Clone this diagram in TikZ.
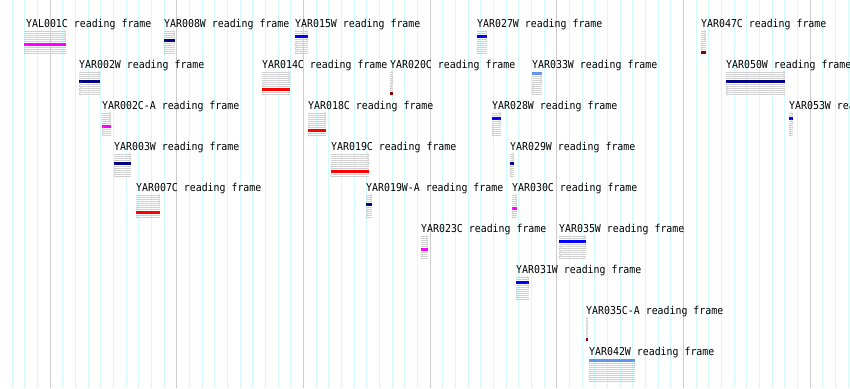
\documentclass[tikz,border=0pt]{standalone}
\usepackage{graphicx}
\usepackage{fontspec}
\newfontfamily\lblfont{DejaVu Sans Mono}
\definecolor{gridcyan}{RGB}{210,250,250}
\definecolor{gridgray}{RGB}{204,204,204}
\definecolor{glgray}{RGB}{208,208,208}
\definecolor{fA}{RGB}{100,149,237}
\definecolor{fB}{RGB}{0,0,255}
\definecolor{fC}{RGB}{0,0,128}
\definecolor{fD}{RGB}{255,0,255}
\definecolor{fE}{RGB}{255,0,0}
\definecolor{fF}{RGB}{139,0,0}
\tikzset{
  lbl/.style={anchor=base west,inner sep=0pt,font=\lblfont\fontsize{9.9}{10}\selectfont},
  gl/.style={draw=glgray,line width=0.55pt},
  barln/.style={line width=3pt},
  minor/.style={draw=gridcyan,line width=0.8pt},
  major/.style={draw=gridgray,line width=1pt}
}
% #1 label id, #2 node name, #3 text x, #4 x1, #5 x2, #6 row top, #7 bar slot, #8 colour
\newcommand\orfglyph[8]{%
  \node[lbl] (#2) at (#3,#6+7.9) {\scalebox{1}[1.1]{#1 reading frame}};
  \foreach \j in {0,...,5}{%
    \pgfmathsetmacro\yy{#6+12+4*\j}%
    \ifnum\j=#7\relax
      \draw[barln,#8] (#4,\yy) -- (#5,\yy);
    \else
      \draw[gl] (#4,\yy-1.2) -- (#5,\yy-1.2);
      \draw[gl] (#4,\yy+1.2) -- (#5,\yy+1.2);
      \ifnum\j<3\relax
        \draw[gl] (#5-1.8,\yy-2.3) -- (#5,\yy) -- (#5-1.8,\yy+2.3);
      \else
        \draw[gl] (#4+1.8,\yy-2.3) -- (#4,\yy) -- (#4+1.8,\yy+2.3);
      \fi
    \fi
  }%
}
\begin{document}
\begin{tikzpicture}[x=1pt,y=-1pt]
\useasboundingbox[fill=white] (0,0) rectangle (850,388);
% grid
\foreach \k in {-3,...,63}{
  \draw[minor] ({50+12.6667*\k},0) -- ({50+12.6667*\k},388);
}
\foreach \m in {0,...,6}{
  \draw[major] ({50+126.6667*\m},0) -- ({50+126.6667*\m},388);
}
% row 0
\orfglyph{YAL001C}{yal001c}{26}{24}{65.7}{20}{3}{fD}
\orfglyph{YAR008W}{yar008w}{164}{164}{175}{20}{2}{fC}
\orfglyph{YAR015W}{yar015w}{295}{295}{307.7}{20}{1}{fB}
\orfglyph{YAR027W}{yar027w}{477}{477}{487}{20}{1}{fB}
\orfglyph{YAR047C}{yar047c}{701}{701}{705.7}{20}{5}{fF}
% row 1
\orfglyph{YAR002W}{yar002w}{79}{79}{100}{61}{2}{fC}
\orfglyph{YAR014C}{yar014c}{262}{262}{290}{61}{4}{fE}
\orfglyph{YAR020C}{yar020c}{390}{390}{393}{61}{5}{fF}
\orfglyph{YAR033W}{yar033w}{532}{532}{542}{61}{0}{fA}
\orfglyph{YAR050W}{yar050w}{726}{726}{785}{61}{2}{fC}
% row 2
\orfglyph{YAR002C-A}{yar002ca}{102}{102}{111}{102}{3}{fD}
\orfglyph{YAR018C}{yar018c}{308}{308}{326}{102}{4}{fE}
\orfglyph{YAR028W}{yar028w}{492}{492}{501}{102}{1}{fB}
\orfglyph{YAR053W}{yar053w}{789}{789.3}{793}{102}{1}{fB}
% row 3
\orfglyph{YAR003W}{yar003w}{114}{114}{131}{143}{2}{fC}
\orfglyph{YAR019C}{yar019c}{331}{330.7}{369}{143}{4}{fE}
\orfglyph{YAR029W}{yar029w}{510}{510}{514}{143}{2}{fC}
% row 4
\orfglyph{YAR007C}{yar007c}{136}{136}{160}{184}{4}{fE}
\orfglyph{YAR019W-A}{yar019wa}{366}{366}{372}{184}{2}{fC}
\orfglyph{YAR030C}{yar030c}{512}{512}{517}{184}{3}{fD}
% row 5
\orfglyph{YAR023C}{yar023c}{421}{421}{428}{225}{3}{fD}
\orfglyph{YAR035W}{yar035w}{559}{559}{586}{225}{1}{fB}
% row 6
\orfglyph{YAR031W}{yar031w}{516}{516}{529}{266}{1}{fB}
% row 7
\orfglyph{YAR035C-A}{yar035ca}{586}{586}{588}{307}{5}{fF}
% row 8
\orfglyph{YAR042W}{yar042w}{589}{589}{635}{348}{0}{fA}
\end{tikzpicture}
\end{document}
